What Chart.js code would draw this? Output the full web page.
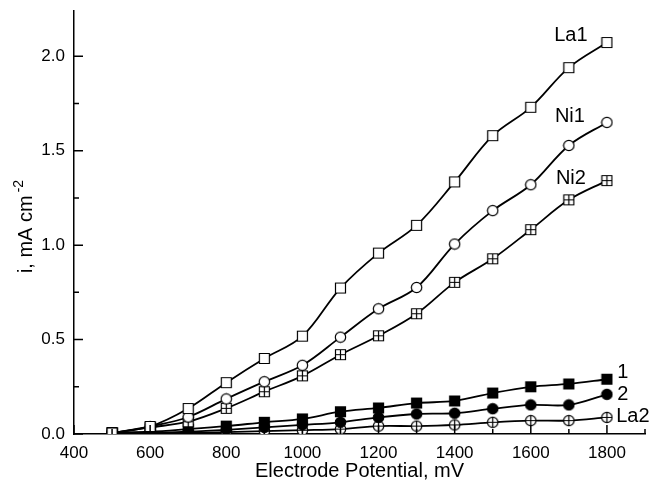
<!DOCTYPE html>
<html>
<head>
<meta charset="utf-8">
<script src="https://cdn.jsdelivr.net/npm/chart.js@4/dist/chart.umd.min.js"></script>
<style>
  html, body { margin: 0; padding: 0; background: #fff; }
  #wrap { width: 653px; height: 481px; }
</style>
</head>
<body>
<div id="wrap"><canvas id="chart"></canvas></div>
<script>
// Data (mV vs mA cm-2).
const potentials = [500, 600, 700, 800, 900, 1000, 1100, 1200, 1300, 1400, 1500, 1600, 1700, 1800];
const la1 = [0.005, 0.04, 0.135, 0.272, 0.40, 0.518, 0.773, 0.958, 1.105, 1.335, 1.58, 1.73, 1.94, 2.073];
const ni1 = [0.005, 0.04, 0.09, 0.186, 0.277, 0.364, 0.513, 0.663, 0.776, 1.006, 1.183, 1.32, 1.528, 1.65];
const ni2 = [0.005, 0.035, 0.065, 0.136, 0.224, 0.308, 0.42, 0.52, 0.637, 0.803, 0.928, 1.082, 1.24, 1.342];
const curve1 = [0.008, 0.012, 0.026, 0.042, 0.062, 0.08, 0.118, 0.138, 0.164, 0.175, 0.217, 0.25, 0.265, 0.29];
const curve2 = [0.004, 0.006, 0.012, 0.022, 0.035, 0.048, 0.062, 0.088, 0.106, 0.11, 0.134, 0.154, 0.154, 0.21];
const la2 = [0.003, 0.004, 0.006, 0.01, 0.015, 0.02, 0.026, 0.042, 0.042, 0.048, 0.062, 0.071, 0.071, 0.088];

const seriesNames = ['La1', 'Ni1', 'Ni2', '1', '2', 'La2'];
const xTickValues = [400, 600, 800, 1000, 1200, 1400, 1600, 1800];
const yTickValues = [0, 0.5, 1.0, 1.5, 2.0];

const FONT = "'Liberation Sans', Arial, Helvetica, sans-serif";

// Small canvases used as point styles.
function marker(shape, filled, plus) {
  const c = document.createElement('canvas');
  c.width = c.height = 13;
  const g = c.getContext('2d');
  g.lineWidth = 1.2;
  g.strokeStyle = '#000';
  g.fillStyle = filled ? '#000' : '#fff';
  g.beginPath();
  if (shape === 'square') {
    g.rect(1.5, 1.5, 10, 10);
  } else {
    g.arc(6.5, 6.5, 5.2, 0, Math.PI * 2);
  }
  g.fill();
  g.stroke();
  if (plus) {
    g.beginPath();
    g.moveTo(6.5, 1.5); g.lineTo(6.5, 11.5);
    g.moveTo(1.5, 6.5); g.lineTo(11.5, 6.5);
    g.stroke();
  }
  return c;
}

const markers = [
  marker('square', false, false),
  marker('circle', false, false),
  marker('square', false, true),
  marker('square', true, false),
  marker('circle', true, false),
  marker('circle', false, true),
];

// Curve labels, placed relative to the last point of each curve.
const labelOffsets = [
  {dx: -36, dy: -7},
  {dx: -37, dy: -6},
  {dx: -36, dy: -2},
  {dx: 16, dy: -7},
  {dx: 16, dy: 0},
  {dx: 26, dy: -1},
];

const seriesValues = [la1, ni1, ni2, curve1, curve2, la2];

const datasets = seriesValues.map((vals, i) => ({
  label: seriesNames[i],
  data: potentials.map((p, k) => ({x: p, y: vals[k]})),
  borderColor: '#000',
  borderWidth: 1.8,
  tension: 0.35,
  pointStyle: markers[i],
  pointRadius: 6,
  fill: false,
}));

const insideTicks = {
  id: 'insideTicks',
  afterDraw(chart) {
    const {ctx, chartArea, scales: {x, y}} = chart;
    ctx.save();
    ctx.strokeStyle = '#000';
    ctx.lineWidth = 1.5;
    ctx.beginPath();
    for (let v = 400; v <= 1900; v += 100) {
      const px = x.getPixelForValue(v);
      const len = v % 200 === 0 ? 9 : 5;
      ctx.moveTo(px, chartArea.bottom);
      ctx.lineTo(px, chartArea.bottom - len);
    }
    for (let k = 0; k <= 8; k++) {
      const v = k * 0.25;
      const py = y.getPixelForValue(v);
      const len = k % 2 === 0 ? 9 : 5;
      ctx.moveTo(chartArea.left, py);
      ctx.lineTo(chartArea.left + len, py);
    }
    ctx.stroke();

    // curve labels
    ctx.fillStyle = '#000';
    ctx.font = '20px ' + FONT;
    ctx.textAlign = 'center';
    ctx.textBaseline = 'middle';
    chart.data.datasets.forEach((ds, i) => {
      const pts = chart.getDatasetMeta(i).data;
      const last = pts[pts.length - 1];
      ctx.fillText(ds.label, last.x + labelOffsets[i].dx, last.y + labelOffsets[i].dy);
    });

    // y axis title with superscript
    const main = 'i, mA cm';
    const sup = '-2';
    ctx.font = '20px ' + FONT;
    const w1 = ctx.measureText(main).width;
    ctx.font = '14px ' + FONT;
    const w2 = ctx.measureText(sup).width;
    const cy = (chartArea.top + chartArea.bottom) / 2 + 4;
    ctx.translate(32, cy);
    ctx.rotate(-Math.PI / 2);
    ctx.textAlign = 'left';
    ctx.textBaseline = 'alphabetic';
    const start = -(w1 + w2 + 3) / 2;
    ctx.font = '20px ' + FONT;
    ctx.fillText(main, start, 0);
    ctx.font = '14px ' + FONT;
    ctx.fillText(sup, start + w1 + 3, -9);
    ctx.restore();
  },
};

new Chart(document.getElementById('chart'), {
  type: 'line',
  data: {datasets},
  options: {
    responsive: true,
    maintainAspectRatio: false,
    animation: false,
    events: [],
    layout: {padding: {left: 0, right: 8, top: 11, bottom: 0}},
    plugins: {
      legend: {display: false},
      tooltip: {enabled: false},
    },
    scales: {
      x: {
        type: 'linear',
        min: 400,
        max: 1900,
        afterBuildTicks: (s) => { s.ticks = xTickValues.map(v => ({value: v})); },
        afterFit: (s) => { s.height = 47; },
        grid: {display: false, drawTicks: false},
        border: {display: true, color: '#000', width: 1.5},
        ticks: {
          color: '#000',
          font: {family: FONT, size: 17, lineHeight: 1},
          padding: 11,
          maxRotation: 0,
          callback: (v) => String(v),
        },
        title: {
          display: true,
          text: 'Electrode Potential, mV',
          color: '#000',
          font: {family: FONT, size: 20, lineHeight: 1},
          padding: {top: 2, bottom: 0},
        },
      },
      y: {
        type: 'linear',
        min: 0,
        max: 2.24,
        afterBuildTicks: (s) => { s.ticks = yTickValues.map(v => ({value: v})); },
        afterFit: (s) => { s.width = 74; s.paddingTop = 0; s.paddingBottom = 0; },
        grid: {display: false, drawTicks: false},
        border: {display: true, color: '#000', width: 1.5},
        ticks: {
          color: '#000',
          font: {family: FONT, size: 17},
          padding: 9,
          callback: (v) => v.toFixed(1),
        },
      },
    },
  },
  plugins: [insideTicks],
});
</script>
</body>
</html>
